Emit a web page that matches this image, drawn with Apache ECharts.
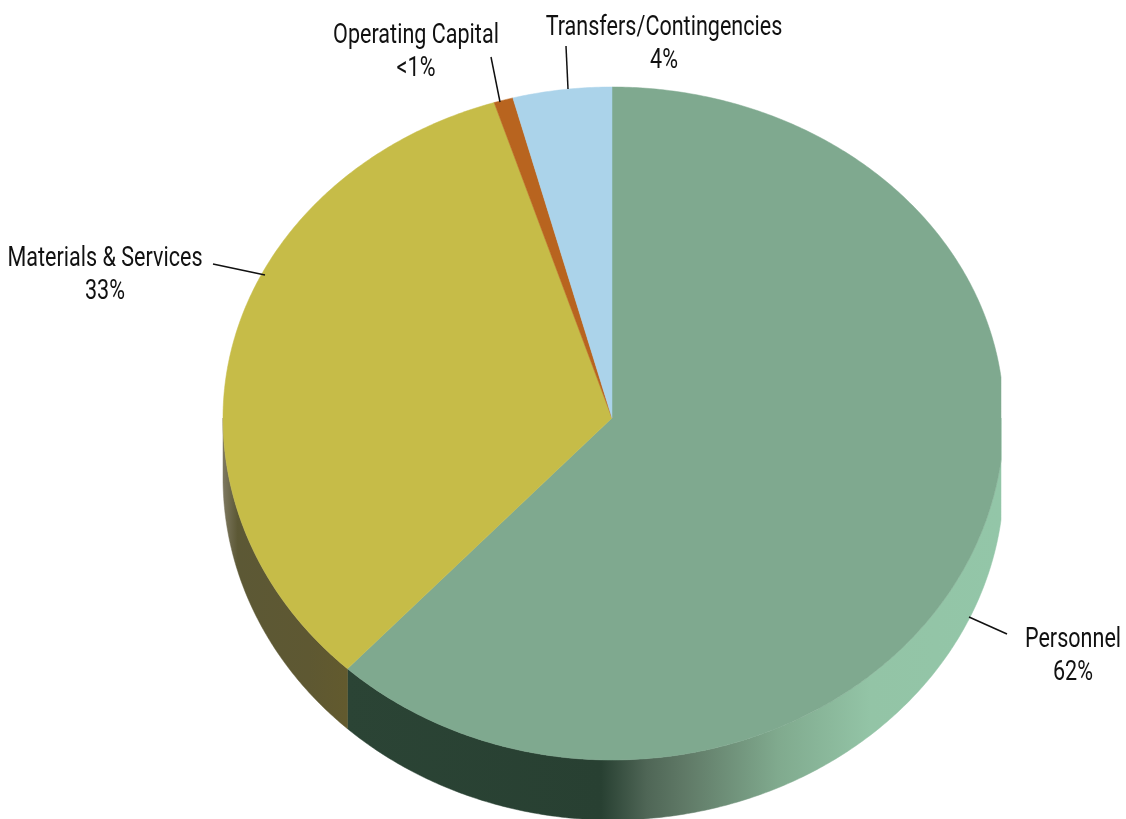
<!DOCTYPE html>
<html>
<head>
<meta charset="utf-8">
<style>html,body{margin:0;padding:0;background:#fff}#chart{width:1126px;height:819px}</style>
<script src="https://cdn.jsdelivr.net/npm/echarts@6/dist/echarts.min.js"></script>
</head>
<body>
<div id="chart"></div>
<script>
const categories = ['Personnel', 'Materials & Services', 'Operating Capital', 'Transfers/Contingencies'];
const values = [61.9, 33.2, 0.8, 4.1];
const shareLabels = ['62%', '33%', '<1%', '4%'];

// Presentation only
const topColors = ['#7fa98f', '#c6bc48', '#b8641f', '#abd3ea'];
const geo = { cx: 612, cy: 418, rxL: 389, rxR: 392, ryUp: 331, ryDown: 342, depth: 60, clipX: 1001 };
const labelLayout = [
  { x: 1073, y: 656, from: [969, 617], to: [1007, 634] },
  { x: 105, y: 275, from: [265, 275], to: [213, 264] },
  { x: 416, y: 52, from: [500, 102], to: [491, 57] },
  { x: 664, y: 44, from: [568, 89], to: [566, 46] }
];
const sideGradients = [
  { type: 'linear', global: true, x: 345, y: 0, x2: 1001, y2: 0, colorStops: [
    { offset: 0, color: '#2b4435' }, { offset: 0.39, color: '#284032' },
    { offset: 0.46, color: '#4f6656' }, { offset: 0.52, color: '#607a67' },
    { offset: 0.66, color: '#80aa8e' }, { offset: 0.8, color: '#93c4a6' },
    { offset: 1, color: '#93c6a8' } ] },
  { type: 'linear', global: true, x: 223, y: 0, x2: 345, y2: 0, colorStops: [
    { offset: 0, color: '#7d7860' }, { offset: 0.12, color: '#5c5835' },
    { offset: 0.7, color: '#5e5832' }, { offset: 1, color: '#625a2e' } ] }
];

const total = values.reduce((a, b) => a + b, 0);
const startAngles = [];
values.reduce((sum, v, i) => { startAngles[i] = sum / total * 360; return sum + v; }, 0);
const endAngle = i => startAngles[i] + values[i] / total * 360;

function rimPoint(deg, drop) {
  const r = deg * Math.PI / 180, s = Math.sin(r), c = Math.cos(r);
  const x = geo.cx + s * (s >= 0 ? geo.rxR : geo.rxL);
  const y = geo.cy - c * (c >= 0 ? geo.ryUp : geo.ryDown) + drop;
  return [Math.min(x, geo.clipX), y];
}
function arc(a0, a1, drop) {
  const pts = [], n = Math.max(2, Math.ceil(Math.abs(a1 - a0) * 2));
  for (let k = 0; k <= n; k++) pts.push(rimPoint(a0 + (a1 - a0) * k / n, drop));
  return pts;
}

const seriesData = categories.map((name, i) => ({ name, value: values[i] }));

const option = {
  animation: false,
  backgroundColor: '#ffffff',
  series: [
    {
      type: 'custom', name: 'side', coordinateSystem: 'none', silent: true, data: seriesData,
      renderItem(params) {
        const i = params.dataIndex;
        const a0 = Math.max(startAngles[i], 90), a1 = Math.min(endAngle(i), 270);
        if (a1 <= a0) return { type: 'group', children: [] };
        const grad = sideGradients[i];
        return {
          type: 'polygon',
          shape: { points: arc(a0, a1, 0).concat(arc(a1, a0, geo.depth)) },
          style: { fill: grad, stroke: grad, lineWidth: 0.5 }
        };
      }
    },
    {
      type: 'custom', name: 'top', coordinateSystem: 'none', silent: true, data: seriesData,
      renderItem(params) {
        const i = params.dataIndex;
        return {
          type: 'polygon',
          shape: { points: [[geo.cx, geo.cy]].concat(arc(startAngles[i], endAngle(i), 0)) },
          style: { fill: topColors[i], stroke: topColors[i], lineWidth: 0.5 }
        };
      }
    },
    {
      type: 'custom', name: 'labels', coordinateSystem: 'none', silent: true, data: seriesData,
      renderItem(params) {
        const i = params.dataIndex, l = labelLayout[i];
        return {
          type: 'group',
          children: [
            { type: 'line', shape: { x1: l.from[0], y1: l.from[1], x2: l.to[0], y2: l.to[1] },
              style: { stroke: '#111', lineWidth: 1.5 } },
            { type: 'text', x: l.x, y: l.y, scaleX: 0.77,
              style: { text: categories[i] + '\n' + shareLabels[i], align: 'center', verticalAlign: 'middle',
                fontFamily: 'Roboto, "Liberation Sans", sans-serif', fontSize: 28, fontWeight: 400, lineHeight: 33, fill: '#111' } }
          ]
        };
      }
    }
  ]
};
const chart = echarts.init(document.getElementById('chart'), null, { renderer: 'canvas' });
chart.setOption(option);
</script>
</body>
</html>
